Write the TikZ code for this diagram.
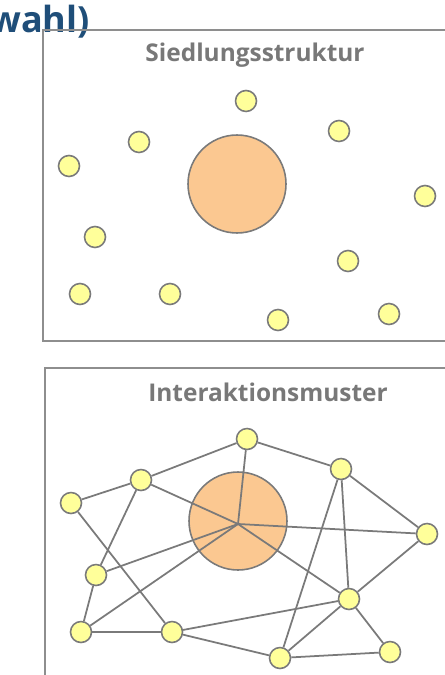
\documentclass[tikz,border=0pt]{standalone}
\usepackage{fontspec}
\setmainfont{Open Sans}
\definecolor{linegray}{HTML}{7A7A7A}
\definecolor{boxgray}{HTML}{8E8E8E}
\definecolor{dotyellow}{HTML}{FFFF9A}
\definecolor{citypeach}{HTML}{FBC891}
\definecolor{headblue}{HTML}{1F4E79}
\definecolor{titlegray}{HTML}{787878}
\pgfdeclarelayer{bottom}
\pgfdeclarelayer{links}
\pgfsetlayers{bottom,links,main}
\tikzset{
  frame/.style={draw=boxgray,line width=1.3pt},
  dot/.style={circle,draw=linegray,line width=0.9pt,fill=dotyellow,minimum size=0.42cm,inner sep=0pt},
  city/.style={circle,draw=linegray,line width=0.9pt,fill=citypeach,minimum size=1.96cm,inner sep=0pt},
  link/.style={draw=linegray,line width=1pt},
  boxtitle/.style={anchor=base,text=titlegray,font=\bfseries\fontsize{13.9}{16}\selectfont}
}

\begin{document}
\begin{tikzpicture}[x=0.02cm,y=-0.02cm]
    \useasboundingbox (0,0) rectangle (444,675);
    % heading, cut at the left
    \node[anchor=base east,inner sep=0pt,text=headblue,font=\bfseries\fontsize{20.5}{24}\selectfont] (head) at (90,33) {wahl)};

    % Siedlungsstruktur
    \draw[frame] (43,30) rectangle (470,341);
    \node[boxtitle] (t1) at (255,62) {Siedlungsstruktur};
    \node[city] (sc) at (237,184) {};
    \node[dot] (s1) at (69,166) {};
    \node[dot] (s2) at (139,142) {};
    \node[dot] (s3) at (246,101) {};
    \node[dot] (s4) at (339,131) {};
    \node[dot] (s5) at (425,196) {};
    \node[dot] (s6) at (95,237) {};
    \node[dot] (s7) at (348,261) {};
    \node[dot] (s8) at (80,294) {};
    \node[dot] (s9) at (170,294) {};
    \node[dot] (s10) at (278,320) {};
    \node[dot] (s11) at (389,314) {};

    % Interaktionsmuster
    \draw[frame] (45,368) rectangle (470,700);
    \node[boxtitle] (t2) at (268,401) {Interaktionsmuster};
    \begin{pgfonlayer}{bottom}
    \node[city] (ic) at (238,521) {};
    \end{pgfonlayer}
    \coordinate (hub) at (238,524);
    \node[dot] (i1) at (247,439) {};
    \node[dot] (i2) at (141,480) {};
    \node[dot] (i3) at (71,503) {};
    \node[dot] (i4) at (341,469) {};
    \node[dot] (i5) at (427,534) {};
    \node[dot] (i6) at (96,575) {};
    \node[dot] (i7) at (349,599) {};
    \node[dot] (i8) at (81,632) {};
    \node[dot] (i9) at (172,632) {};
    \node[dot] (i10) at (280,658) {};
    \node[dot] (i11) at (390,652) {};
    \begin{pgfonlayer}{links}
    \path[link] (i1) edge (i2) edge (i4) edge (hub);
    \path[link] (i2) edge (i3) edge (hub) edge (i6);
    \path[link] (i3) edge (i9);
    \path[link] (i6) edge (hub) edge (i8);
    \path[link] (i8) edge (hub) edge (i9);
    \path[link] (i9) edge (i7) edge (i10);
    \path[link] (i10) edge (i4) edge (i7) edge (i11);
    \path[link] (i11) edge (i7);
    \path[link] (i4) edge (i7) edge (i5);
    \path[link] (i7) edge (i5);
    \path[link] (hub) edge (i5) edge (i7);
    \end{pgfonlayer}
  \end{tikzpicture}
\end{document}
